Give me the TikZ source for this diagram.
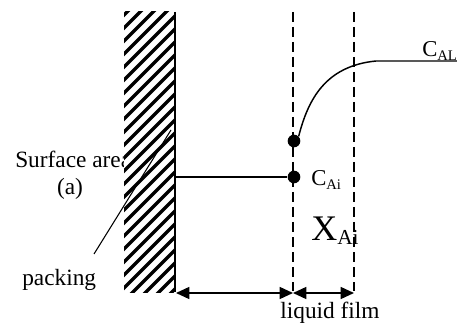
\documentclass[tikz,border=0pt]{standalone}
\usepackage{fontspec}
\setmainfont{Liberation Serif}
\usetikzlibrary{positioning, arrows.meta}

\newcommand{\lowsub}[1]{\raisebox{-0.35ex}{\fontsize{11}{12}\selectfont #1}}

\tikzset{
    lbl/.style={inner sep=0pt, font=\fontsize{17.5}{20}\selectfont},
    conc/.style={inner sep=0pt, font=\fontsize{17}{20}\selectfont},
    film/.style={line width=1pt, dash pattern=on 7.5pt off 3.75pt},
    dimarr/.style={line width=1.1pt, {Triangle[length=10pt,width=9pt]}-{Triangle[length=10pt,width=9pt]}},
    blob/.style={circle, fill, inner sep=0pt, minimum size=9.5pt}
}

\begin{document}
\begin{tikzpicture}[x=0.75pt, y=-0.75pt]
    \useasboundingbox (0,0) rectangle (457,324);

    % Labels on the left (under the packing)
    \node[lbl, anchor=base west] (surf) at (15,168) {Surface area};
    \node[lbl, anchor=base] (asym) at (70,195) {(a)};
    \node[lbl, anchor=base west] (pack) at (22,285) {packing};

    % Packing wall
    \fill[white] (124,12) rectangle (174,292);
    \begin{scope}
        \clip (124,12) rectangle (174,292);
        \foreach \k in {-65,-52,...,310} {
            \draw[line width=2.4pt] (120,\k+58) -- (178,\k);
        }
    \end{scope}
    \coordinate (wtop) at (175,12);
    \coordinate (wbot) at (175,292);
    \draw[line width=0.8pt] (wtop) -- (wbot);

    % Leader from label to packing
    \coordinate (lead) at (94,254);
    \coordinate (leadend) at (171,130);
    \draw[line width=0.8pt] (lead) -- (leadend);

    % Film boundaries
    \coordinate (f1top) at (293,12);
    \coordinate (f1bot) at (293,291);
    \coordinate (f2top) at (354,12);
    \coordinate (f2bot) at (354,291);
    \draw[film] (f1top) -- (f1bot);
    \draw[film] (f2top) -- (f2bot);

    % Interface points
    \node[blob] (pup) at (294,141) {};
    \node[blob] (plow) at (294,177) {};
    \coordinate (wmid) at (175,177);
    \draw[line width=0.8pt] (wmid) -- (plow.west);

    % Concentration profile
    \coordinate (bulk) at (460,61);
    \draw[line width=1.1pt] (pup.north east) .. controls (308,100) and (325,66) .. (376,61) -- (bulk);

    \node[conc, anchor=base west] (cal) at (422,57) {C\lowsub{AL}};
    \node[conc, anchor=base west] (cai) at (311,186) {C\lowsub{Ai}};
    \node[inner sep=0pt, font=\fontsize{27}{30}\selectfont, anchor=base west] (xai) at (311,240) {X\raisebox{-0.3ex}{\fontsize{16}{18}\selectfont Ai}};

    % Dimension arrows
    \coordinate (d0) at (176,293);
    \coordinate (d1) at (293,293);
    \coordinate (d2) at (354,293);
    \draw[dimarr] (d0) -- (d1);
    \draw[dimarr] (d1) -- (d2);
    \node[lbl, anchor=base] (liq) at (330,318) {liquid film};
\end{tikzpicture}
\end{document}
